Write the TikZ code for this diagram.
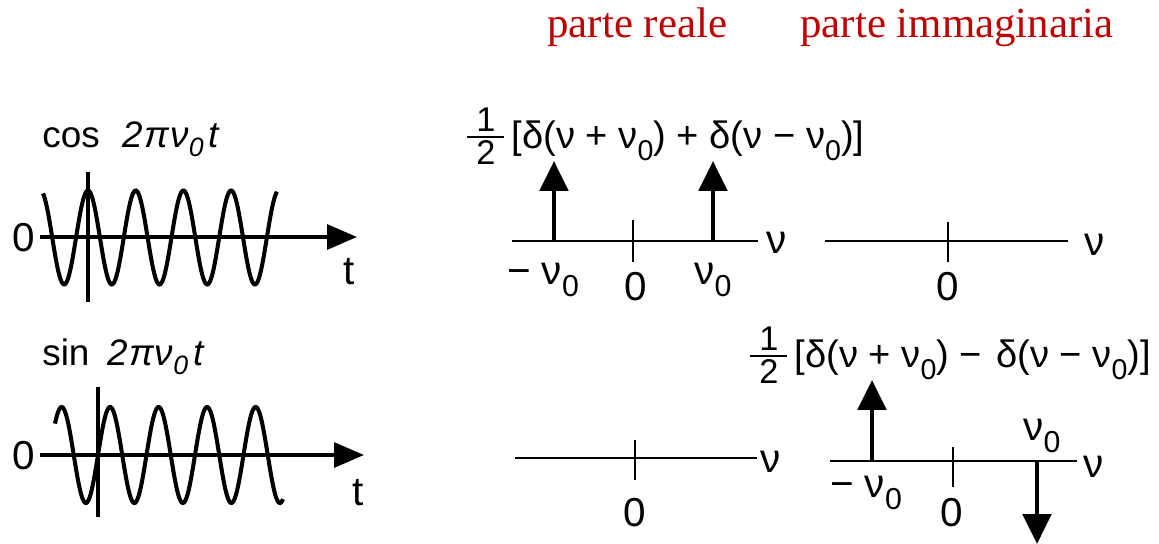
\documentclass[tikz,border=0pt]{standalone}
\usepackage{fontspec}
\setmainfont{Liberation Sans}
\newfontfamily\serifred{Liberation Serif}
\usetikzlibrary{arrows.meta}
\definecolor{titlered}{RGB}{192,0,0}
\newcommand\nz{ν\raisebox{-0.6ex}{\scalebox{0.75}{0}}}
\newcommand\half{\raisebox{0.15ex}{${\hbox{\hspace{5pt}\scalebox{0.9}{1}\hspace{5pt}}\above 1.3pt\hbox{\hspace{5pt}\scalebox{0.9}{2}\hspace{5pt}}}$}}
\newcommand\omegat{\textit{2\hspace{1pt}π\hspace{0.5pt}ν\raisebox{-0.5ex}{\scalebox{0.72}{0}}\hspace{3pt}t}}
\begin{document}
\begin{tikzpicture}[x=0.02cm,y=-0.02cm,
  title/.style={font=\serifred\fontsize{24.4}{28}\selectfont, text=titlered, inner sep=0},
  fig/.style={font=\fontsize{21}{24}\selectfont, inner sep=0},
  lab/.style={font=\fontsize{23}{26}\selectfont, inner sep=0},
  formula/.style={font=\fontsize{21.7}{26}\selectfont, inner sep=0},
  taxis/.style={line width=2.3pt, -{Triangle[length=17pt,width=14pt]}},
  wave/.style={line width=2.3pt},
  faxis/.style={line width=0.9pt},
  tick/.style={line width=0.9pt},
  impulse/.style={line width=2.6pt, -{Triangle[length=17pt,width=16pt]}}]
\useasboundingbox (0,0) rectangle (1159,544);

% titles
\node[title, anchor=base west] (tre) at (547,38) {parte reale};
\node[title, anchor=base west] (tim) at (800,38) {parte immaginaria};

% ---- cos panel
\node[fig, anchor=base west] (coslab) at (42,147) {cos\hspace{13pt}\omegat};
\coordinate (cA) at (40,237);
\coordinate (cB) at (357,237);
\draw[taxis] (cA) -- (cB);
\coordinate (cV1) at (88,172);
\coordinate (cV2) at (88,302);
\draw[wave] (cV1) -- (cV2);
\draw[wave] plot[domain=43:277, samples=240, smooth] (\x, {237.5-47*cos((\x-88)/47.7*360)});
\node[lab] (cz) at (24,238) {0};
\node[lab] (ct) at (349,272) {t};

% ---- sin panel
\node[fig, anchor=base west] (sinlab) at (42,365) {sin\hspace{10pt}\omegat};
\coordinate (sA) at (40,455);
\coordinate (sB) at (364,455);
\draw[taxis] (sA) -- (sB);
\coordinate (sV1) at (98,387);
\coordinate (sV2) at (98,517);
\draw[wave] (sV1) -- (sV2);
\draw[wave] plot[domain=55:283, samples=240, smooth] (\x, {455-48*sin((\x-98)/48.5*360)});
\node[lab] (sz) at (24,456) {0};
\node[lab] (st) at (358,493) {t};

% ---- top real spectrum
\node[formula, anchor=west] (f1) at (465,136) {\half\hspace{3pt}[δ(ν + \nz) + δ(ν − \nz)]};
\coordinate (r1A) at (512,241);
\coordinate (r1B) at (758,241);
\draw[faxis] (r1A) -- (r1B);
\node[lab] (r1nu) at (777,243) {ν};
\coordinate (r1T1) at (633,220);
\coordinate (r1T2) at (633,262);
\draw[tick] (r1T1) -- (r1T2);
\coordinate (r1m) at (554,241);
\coordinate (r1mt) at (554,161);
\draw[impulse] (r1m) -- (r1mt);
\coordinate (r1p) at (713,241);
\coordinate (r1pt) at (713,161);
\draw[impulse] (r1p) -- (r1pt);
\node[lab] (r1l1) at (543,280) {− \nz};
\node[lab] (r1l0) at (636,287) {0};
\node[lab] (r1l2) at (713,280) {\nz};

% ---- top imaginary spectrum
\coordinate (i1A) at (825,241);
\coordinate (i1B) at (1068,241);
\draw[faxis] (i1A) -- (i1B);
\node[lab] (i1nu) at (1095,245) {ν};
\coordinate (i1T1) at (948,222);
\coordinate (i1T2) at (948,262);
\draw[tick] (i1T1) -- (i1T2);
\node[lab] (i1l0) at (948,287) {0};

% ---- bottom real spectrum
\coordinate (r2A) at (515,458);
\coordinate (r2B) at (757,458);
\draw[faxis] (r2A) -- (r2B);
\node[lab] (r2nu) at (771,462) {ν};
\coordinate (r2T1) at (635,440);
\coordinate (r2T2) at (635,480);
\draw[tick] (r2T1) -- (r2T2);
\node[lab] (r2l0) at (635,513) {0};

% ---- bottom imaginary spectrum
\node[formula, anchor=west] (f2) at (748,355) {\half\hspace{3pt}[δ(ν + \nz) −\hspace{8pt}δ(ν − \nz)]};
\coordinate (i2A) at (830,461);
\coordinate (i2B) at (1077,461);
\draw[faxis] (i2A) -- (i2B);
\node[lab] (i2nu) at (1094,467) {ν};
\coordinate (i2T1) at (953,447);
\coordinate (i2T2) at (953,487);
\draw[tick] (i2T1) -- (i2T2);
\coordinate (i2m) at (872,461);
\coordinate (i2mt) at (872,380);
\draw[impulse] (i2m) -- (i2mt);
\coordinate (i2p) at (1037,461);
\coordinate (i2pt) at (1037,544);
\draw[impulse] (i2p) -- (i2pt);
\node[lab] (i2l1) at (866,493) {− \nz};
\node[lab] (i2l0) at (952,513) {0};
\node[lab] (i2l2) at (1042,436) {\nz};
\end{tikzpicture}
\end{document}
